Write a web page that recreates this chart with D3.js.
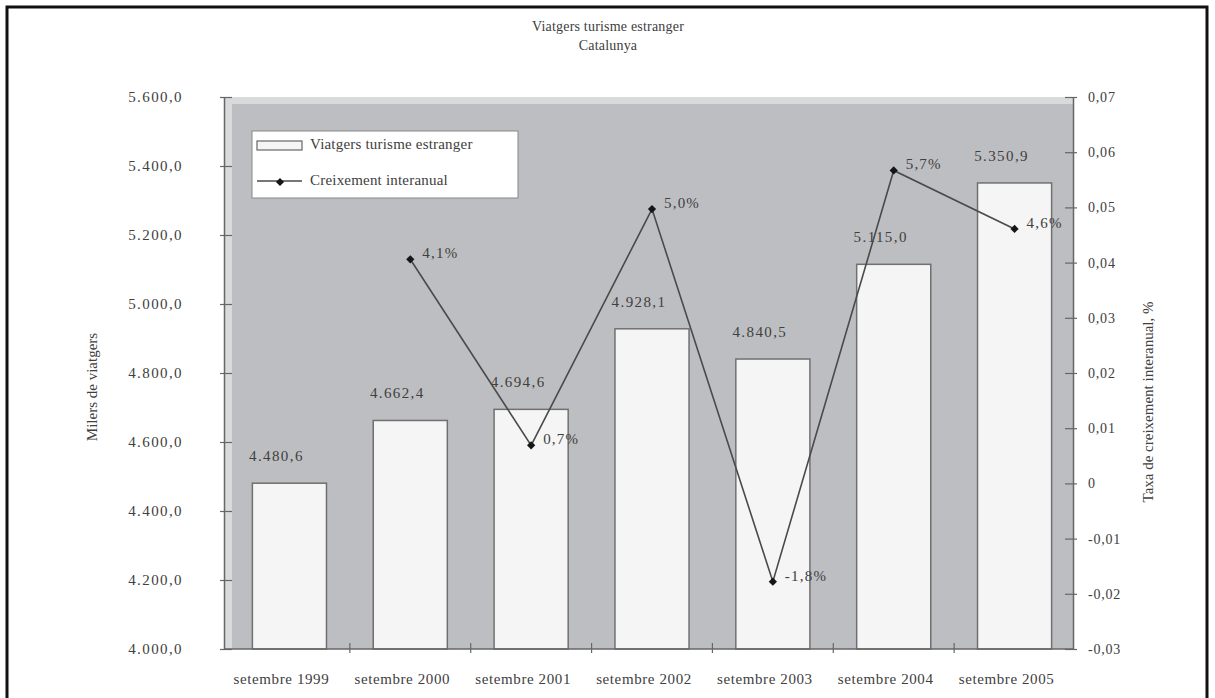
<!DOCTYPE html>
<html>
<head>
<meta charset="utf-8">
<script src="https://cdn.jsdelivr.net/npm/d3@7"></script>
<style>
  body { margin: 0; background: #fff; }
  svg { display: block; }
  text { font-family: 'Liberation Serif', 'DejaVu Serif', serif; fill: #404040; }
</style>
</head>
<body>
<svg width="1215" height="698"></svg>
<script>
// dades
var categories = ['setembre 1999', 'setembre 2000', 'setembre 2001', 'setembre 2002', 'setembre 2003', 'setembre 2004', 'setembre 2005']
var viatgers = [4480.6, 4662.4, 4694.6, 4928.1, 4840.5, 5115.0, 5350.9]
var creixement = [null, 0.0406, 0.0069, 0.0497, -0.0178, 0.0567, 0.0461]
var leftTicks = [4000, 4200, 4400, 4600, 4800, 5000, 5200, 5400, 5600]
var rightTicks = [-0.03, -0.02, -0.01, 0, 0.01, 0.02, 0.03, 0.04, 0.05, 0.06, 0.07]
var titol = ['Viatgers turisme estranger', 'Catalunya']
var llegenda = ['Viatgers turisme estranger', 'Creixement interanual']

var loc = d3.formatLocale({ decimal: ',', thousands: '.', grouping: [3], currency: ['', ''], minus: '-' })
var fmtNum = loc.format(',.1f'),
    fmtPct = loc.format('.1%'),
    fmtRate = function(d) { return d === 0 ? '0' : loc.format('.2f')(d) }

var svg = d3.select('svg')

var plot = { left: 224, right: 1073, top: 97, bottom: 649 }

var x = d3.scaleBand()
    .domain(categories)
    .range([229, 1075])
    .paddingInner(0.387)
    .paddingOuter(0.1935)

var y = d3.scaleLinear().domain([4000, 5600]).range([plot.bottom, plot.top])
var y2 = d3.scaleLinear().domain([-0.03, 0.07]).range([plot.bottom, plot.top])

// marc
svg.append('rect')
    .attr('x', 7).attr('y', 7)
    .attr('width', 1200).attr('height', 720)
    .attr('fill', 'none')
    .attr('stroke', '#111')
    .attr('stroke-width', 3)

// titol
svg.selectAll('.title')
    .data(titol)
  .enter().append('text')
    .attr('class', 'title')
    .attr('x', 608)
    .attr('y', function(d, i) { return 31 + i * 19 })
    .attr('text-anchor', 'middle')
    .style('font-size', '14px')
    .style('letter-spacing', '0.2px')
    .text(function(d) { return d })

// fons de l'area (efecte 3D)
svg.append('rect')
    .attr('x', plot.left).attr('y', plot.top)
    .attr('width', plot.right - plot.left).attr('height', plot.bottom - plot.top)
    .attr('fill', '#d9dadc')
svg.append('rect')
    .attr('x', plot.left + 8).attr('y', plot.top + 7)
    .attr('width', plot.right - plot.left - 8).attr('height', plot.bottom - plot.top - 7)
    .attr('fill', '#bdbec1')

// barres
var bw = x.bandwidth()
svg.append('g').selectAll('rect')
    .data(viatgers)
  .enter().append('rect')
    .attr('x', function(d, i) { return x(categories[i]) })
    .attr('y', function(d) { return y(d) })
    .attr('width', bw)
    .attr('height', function(d) { return y(4000) - y(d) })
    .attr('fill', '#f5f5f5')
    .attr('stroke', '#707070')
    .attr('stroke-width', 1.5)

svg.append('g').selectAll('text')
    .data(viatgers)
  .enter().append('text')
    .attr('x', function(d, i) { return x(categories[i]) + bw / 2 - 13 })
    .attr('y', function(d) { return y(d) - 22 })
    .attr('text-anchor', 'middle')
    .style('font-size', '15px')
    .style('letter-spacing', '1.4px')
    .text(function(d) { return fmtNum(d) })

// eixos
var axisColor = '#666'
var gl = svg.append('g').attr('transform', 'translate(' + plot.left + ',0)')
    .call(d3.axisLeft(y).tickValues(leftTicks).tickFormat(fmtNum).tickSizeInner(4).tickSizeOuter(0).tickPadding(37))
var gr = svg.append('g').attr('transform', 'translate(' + plot.right + ',0)')
    .call(d3.axisRight(y2).tickValues(rightTicks).tickFormat(fmtRate).tickSizeInner(4).tickSizeOuter(0).tickPadding(11))
var gb = svg.append('g').attr('transform', 'translate(0,' + plot.bottom + ')')
    .call(d3.axisBottom(x).tickSize(0).tickPadding(24))

;[gl, gr, gb].forEach(function(g) {
  g.select('.domain').attr('stroke', axisColor).attr('stroke-width', 1.5)
  g.selectAll('.tick line').attr('stroke', axisColor).attr('stroke-width', 1.2)
  g.selectAll('text')
      .style('font-family', "'Liberation Serif', serif")
      .style('font-size', '15px')
      .style('letter-spacing', '1.4px')
      .attr('fill', '#404040')
})
gl.selectAll('.tick line').attr('x2', 8).attr('x1', -4)
gr.selectAll('.tick line').attr('x1', -8).attr('x2', 4)
gr.selectAll('text').style('font-size', '14px').style('letter-spacing', '0.8px')
gb.select('.domain').attr('d', 'M' + plot.left + ',0H' + plot.right)
gb.selectAll('.tick text').attr('dx', -8).style('font-size', '15px').style('letter-spacing', '0.6px')

// marques de separacio a l'eix x
svg.append('g').selectAll('line')
    .data(categories.slice(1))
  .enter().append('line')
    .attr('x1', function(d) { return x(d) - x.step() * x.paddingInner() / 2 })
    .attr('x2', function(d) { return x(d) - x.step() * x.paddingInner() / 2 })
    .attr('y1', plot.bottom - 6)
    .attr('y2', plot.bottom + 4)
    .attr('stroke', axisColor)
    .attr('stroke-width', 1.2)

// titols dels eixos
svg.append('text')
    .attr('transform', 'translate(97,387) rotate(-90)')
    .attr('text-anchor', 'middle')
    .style('font-size', '15px')
    .text('Milers de viatgers')
svg.append('text')
    .attr('transform', 'translate(1153,402) rotate(-90)')
    .attr('text-anchor', 'middle')
    .style('font-size', '15px')
    .text('Taxa de creixement interanual, %')

// linia de creixement
var pts = creixement.map(function(d, i) { return { c: categories[i], v: d } })
  .filter(function(d) { return d.v !== null })

var line = d3.line()
    .x(function(d) { return x(d.c) + bw / 2 })
    .y(function(d) { return y2(d.v) })

svg.append('path')
    .datum(pts)
    .attr('d', line)
    .attr('fill', 'none')
    .attr('stroke', '#4a4a4a')
    .attr('stroke-width', 1.6)

var marker = d3.symbol().type(d3.symbolSquare).size(34)

svg.append('g').selectAll('path')
    .data(pts)
  .enter().append('path')
    .attr('d', marker)
    .attr('transform', function(d) { return 'translate(' + (x(d.c) + bw / 2) + ',' + y2(d.v) + ') rotate(45)' })
    .attr('fill', '#151515')

svg.append('g').selectAll('text')
    .data(pts)
  .enter().append('text')
    .attr('x', function(d) { return x(d.c) + bw / 2 + 12 })
    .attr('y', function(d) { return y2(d.v) - 1 })
    .style('font-size', '15px')
    .style('letter-spacing', '1.2px')
    .text(function(d) { return fmtPct(d.v) })

// llegenda
var lg = svg.append('g').attr('transform', 'translate(252,131)')
lg.append('rect')
    .attr('width', 266).attr('height', 67)
    .attr('fill', '#fff')
    .attr('stroke', '#888')
    .attr('stroke-width', 1)
lg.append('rect')
    .attr('x', 5).attr('y', 10).attr('width', 45).attr('height', 9)
    .attr('fill', '#f5f5f5').attr('stroke', '#666').attr('stroke-width', 1.2)
lg.append('line')
    .attr('x1', 5).attr('x2', 50).attr('y1', 50).attr('y2', 50)
    .attr('stroke', '#4a4a4a').attr('stroke-width', 1.6)
lg.append('path')
    .attr('d', marker)
    .attr('transform', 'translate(28,51) rotate(45)')
    .attr('fill', '#151515')
lg.selectAll('.lgtext')
    .data(llegenda)
  .enter().append('text')
    .attr('class', 'lgtext')
    .attr('x', 58)
    .attr('y', function(d, i) { return 18 + i * 36 })
    .style('font-size', '15px')
    .style('letter-spacing', '0.2px')
    .text(function(d) { return d })
</script>
</body>
</html>
